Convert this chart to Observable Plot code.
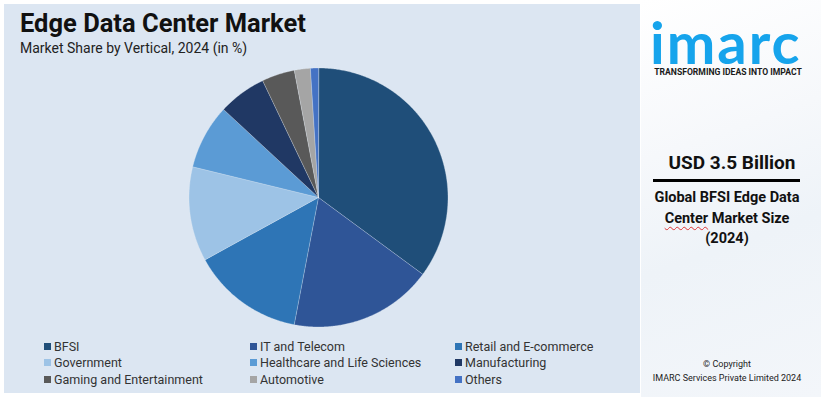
<!DOCTYPE html>
<html>
<head>
<meta charset="utf-8">
<script src="https://cdn.jsdelivr.net/npm/d3@7"></script>
<script src="https://cdn.jsdelivr.net/npm/@observablehq/plot@0.6"></script>
<style>
  html, body { margin: 0; padding: 0; background: #ffffff; }
  #wrap { position: relative; width: 821px; height: 397px; overflow: hidden; background: #ffffff; font-family: Roboto, "Liberation Sans", sans-serif; }
  #left { position: absolute; left: 4px; top: 4px; width: 636px; height: 389px; background: #dce6f2; }
  #right { position: absolute; left: 641px; top: 0; width: 180px; height: 397px;
    background: linear-gradient(160deg, #ffffff 0%, #f6f8fb 35%, #eef3f8 60%, #f3f6fa 100%); }
  #title { position: absolute; left: 20px; top: 8px; font-size: 25.5px; font-weight: 700; color: #111; }
  #subtitle { position: absolute; left: 20px; top: 40px; font-size: 14px; color: #222; }
  #chart { position: absolute; left: 4px; top: 62px; }
  #legend { position: absolute; left: 44px; top: 338px; display: grid; grid-template-columns: 206px 205px 180px; row-gap: 0px;
    font-family: Roboto, sans-serif; font-size: 12.5px; color: #333; }
  .item { display: flex; align-items: center; height: 16.5px; white-space: nowrap; }
  .sw { width: 7px; height: 7px; margin-right: 3px; flex: none; }
  #logo { position: absolute; left: 650px; top: 20px; font-family: Lato, Roboto, sans-serif; font-weight: 700; font-size: 58px; line-height: 44px; color: #16a4ec; letter-spacing: 2px; }
  #tag { position: absolute; left: 652px; top: 67px; width: 152px; text-align: center; font-family: Roboto, sans-serif; font-weight: 700; font-size: 8.6px; line-height: 10px; color: #1a1a1a; white-space: nowrap; }
  #usd { position: absolute; left: 641px; width: 182px; top: 151px; text-align: center; font-weight: 700; font-size: 19px; color: #111; }
  #rule { position: absolute; left: 653px; top: 179px; width: 147px; height: 3px; background: #000; }
  #desc { position: absolute; left: 641px; width: 172px; top: 188px; text-align: center; font-weight: 700; font-size: 14.5px; line-height: 20.5px; color: #111; }
  #desc .sp { text-decoration: underline wavy #d33; text-decoration-thickness: 1px; text-underline-offset: 3px; }
  #copy { position: absolute; left: 641px; width: 172px; top: 357px; text-align: center; font-size: 9px; line-height: 14px; color: #222; }
</style>
</head>
<body>
<div id="wrap">
  <div id="left"></div>
  <div id="right"></div>
  <div id="title">Edge Data Center Market</div>
  <div id="subtitle">Market Share by Vertical, 2024 (in %)</div>
  <div id="chart"></div>
  <div id="legend"></div>
  <div id="logo">imarc</div>
  <div id="tag">TRANSFORMING IDEAS INTO IMPACT</div>
  <div id="usd">USD 3.5 Billion</div>
  <div id="rule"></div>
  <div id="desc">Global BFSI Edge Data<br><span class="sp">Center</span> Market Size<br>(2024)</div>
  <div id="copy">© Copyright<br>IMARC Services Private Limited 2024</div>
</div>
<script>
// ---- data ----
const categories = ["BFSI", "IT and Telecom", "Retail and E-commerce", "Government", "Healthcare and Life Sciences", "Manufacturing", "Gaming and Entertainment", "Automotive", "Others"];
const shares = [35.1, 17.9, 14.0, 11.8, 8.1, 6.0, 4.1, 2.0, 1.0];
const colors = ["#1f4e79", "#2f5597", "#2e75b6", "#9dc3e6", "#5b9bd5", "#203864", "#595959", "#a5a5a5", "#4472c4"];

// ---- pie geometry: slice outlines in unit coordinates ----
const total = d3.sum(shares);
const points = [];
let start = 0;
categories.forEach((cat, i) => {
  const a0 = start / total * 2 * Math.PI;
  const a1 = (start + shares[i]) / total * 2 * Math.PI;
  start += shares[i];
  points.push({cat, x: 0, y: 0});
  const n = Math.max(2, Math.ceil((a1 - a0) / (Math.PI / 360)));
  for (let k = 0; k <= n; k++) {
    const a = a0 + (a1 - a0) * k / n;
    points.push({cat, x: Math.sin(a), y: Math.cos(a)});
  }
});

const W = 636, H = 272, cx = 314, cy = 135, R = 129.5;
const plot = Plot.plot({
  width: W,
  height: H,
  margin: 0,
  style: {background: "transparent", overflow: "visible"},
  x: {domain: [-1, 1], range: [cx - R, cx + R], axis: null},
  y: {domain: [-1, 1], range: [cy + R, cy - R], axis: null},
  color: {domain: categories, range: colors},
  marks: [
    Plot.line(points, {x: "x", y: "y", z: "cat", fill: "cat", stroke: "#e8eef6", strokeWidth: 0.5, strokeOpacity: 0.6, curve: "linear-closed"})
  ]
});
document.getElementById("chart").appendChild(plot);

// ---- legend from the same colour scale ----
const color = plot.scale("color");
const lg = document.getElementById("legend");
categories.forEach((cat, i) => {
  const it = document.createElement("div");
  it.className = "item";
  const sw = document.createElement("span");
  sw.className = "sw";
  sw.style.background = color.range[color.domain.indexOf(cat)];
  const tx = document.createElement("span");
  tx.textContent = cat;
  it.appendChild(sw); it.appendChild(tx);
  lg.appendChild(it);
});
</script>
</body>
</html>
